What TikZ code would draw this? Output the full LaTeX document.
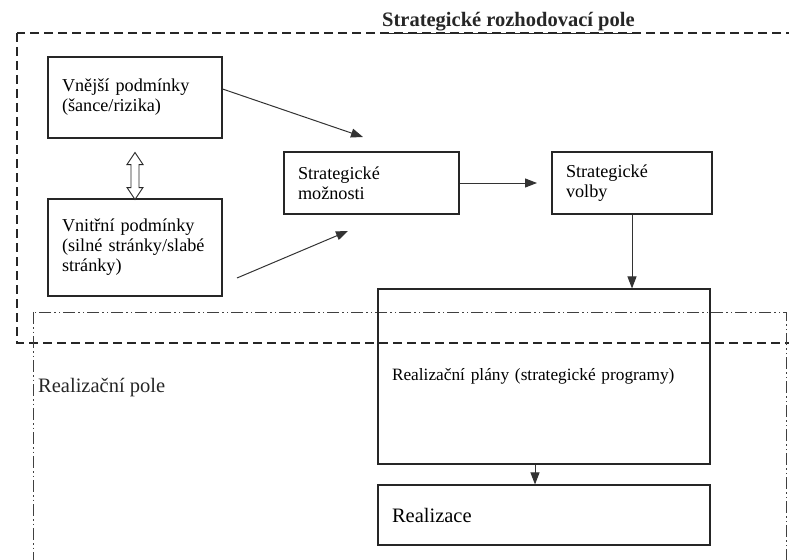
\documentclass[tikz,border=0pt]{standalone}
\usepackage{fontspec}
\setmainfont{Liberation Serif}
\usetikzlibrary{arrows.meta}
\begin{document}
\begin{tikzpicture}[x=1pt,y=-1pt,
  box/.style={draw=black!85, line width=1.1pt, align=left, inner xsep=14pt,
    font=\fontsize{18.2}{20}\selectfont},
  fieldlabel/.style={anchor=base west, inner sep=0pt, text=black!85},
  flow/.style={draw=black!80, line width=1pt, -{Triangle[length=12pt,width=9pt]}},
  dashfield/.style={draw=black!85, line width=1.3pt, dash pattern=on 9pt off 5pt},
  dotfield/.style={draw=black!75, line width=1pt,
    dash pattern=on 12pt off 3pt on 1.5pt off 3pt on 1.5pt off 3pt},
]
\useasboundingbox (0,0) rectangle (789,559);

% the two fields, partly running off the page
\begin{scope}
  \clip (0,0) rectangle (789,559);
  \draw[dashfield] (17,33) rectangle (810,343);
  \draw[dotfield] (33,312) rectangle (786,600);
\end{scope}

\node[fieldlabel, font=\bfseries\fontsize{20.5}{22}\selectfont]
  (titul) at (382,27) {\underline{Strategické rozhodovací pole}};
\node[fieldlabel, font=\fontsize{20.5}{22}\selectfont]
  (realpole) at (38,392) {Realizační pole};

% decision blocks
\node[box, text width=146pt, minimum height=81pt] (vnejsi) at (135,97.5)
  {Vnější podmínky\\(šance/rizika)};
\node[box, text width=146pt, minimum height=97pt] (vnitrni) at (135,247.5)
  {Vnitřní podmínky\\(silné stránky/slabé\\stránky)};
\node[box, text width=147pt, minimum height=62pt] (moznosti) at (371.5,183)
  {Strategické\\možnosti};
\node[box, text width=132pt, minimum height=62pt] (volby) at (632,183)
  {Strategické\\volby};
\node[box, text width=304pt, minimum height=175pt, font=\fontsize{17.3}{20}\selectfont]
  (plany) at (544,376.5) {Realizační plány (strategické programy)};
\node[box, text width=304pt, minimum height=60pt, font=\fontsize{20.5}{22}\selectfont]
  (realizace) at (544,515) {Realizace};

% hollow double arrow between the two condition blocks
\coordinate (dA) at (vnejsi.south);
\draw[draw=black!85, line width=0.9pt, fill=white]
  ([yshift=-14pt]dA) -- ++(8,12) -- ++(-4,0) -- ++(0,23) -- ++(4,0)
  -- ++(-8,12) -- ++(-8,-12) -- ++(4,0) -- ++(0,-23) -- ++(-4,0) -- cycle;

% connectors
\coordinate (t1) at (363,137);
\coordinate (s2) at (237,278);
\coordinate (t2) at (348,231);
\coordinate (t3) at (537,183);
\draw[flow] ([yshift=8.5pt]vnejsi.east) -- (t1);
\draw[flow] (s2) -- (t2);
\draw[flow] (moznosti.east) -- (t3);
\draw[flow] (volby.south) -- (volby.south |- plany.north);
\draw[flow] ([xshift=-9pt]plany.south) -- ([xshift=-9pt]realizace.north);
\end{tikzpicture}
\end{document}
